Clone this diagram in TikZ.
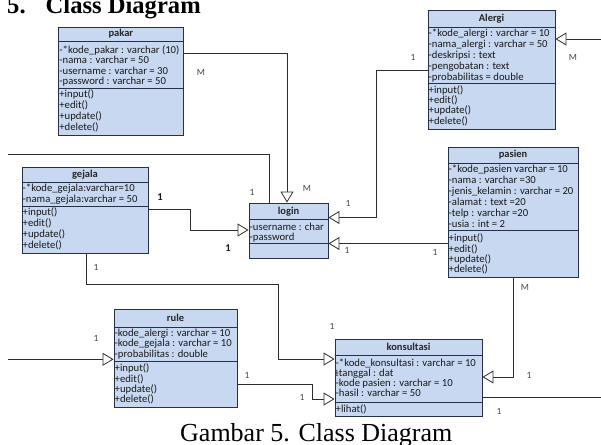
\documentclass[tikz,border=0pt]{standalone}
\usepackage{fontspec}
\setmainfont{Liberation Serif}
\newfontfamily\boxfont{Carlito}
\usetikzlibrary{arrows.meta,fit}

\definecolor{boxfill}{RGB}{199,216,240}
\definecolor{boxline}{RGB}{38,48,72}
\definecolor{wire}{RGB}{45,45,45}
\definecolor{labelgray}{RGB}{70,70,70}

\tikzset{
  classbox/.style={draw=boxline, fill=boxfill, line width=0.9pt, inner sep=0pt},
  classrule/.style={draw=boxline, line width=0.9pt},
  classtitle/.style={font=\boxfont\bfseries\fontsize{10.5}{11}\selectfont, text=black!85, inner sep=0pt},
  member/.style={font=\boxfont\fontsize{10.7}{11}\selectfont, text=black!90, inner sep=0pt},
  plainwire/.style={draw=wire, line width=0.8pt},
  assoc/.style={plainwire, -{Triangle[open, length=11pt, width=13pt, fill=white, line width=0.8pt]}},
  mult/.style={font=\boxfont\fontsize{9.5}{10}\selectfont, text=labelgray, inner sep=0pt},
  multbold/.style={font=\boxfont\bfseries\fontsize{10.5}{11}\selectfont, text=black!90, inner sep=0pt},
}

% class box: name, x1, y1, x2, y2, header divider y, attribute divider y, title
\newcommand\umlclass[8]{%
  \node[classbox, fit={(#2,#3) (#4,#5)}] (#1) {};
  \draw[classrule] (#1.west |- 0,#6) -- (#1.east |- 0,#6);
  \draw[classrule] (#1.west |- 0,#7) -- (#1.east |- 0,#7);
  \node[classtitle] (#1-title) at ({(#2+#4)/2},{(#3+#6)/2}) {#8};
}
% member lines: name prefix, x, first baseline y, line step, list
\newcommand\members[5]{%
  \foreach \t [count=\i] in {#5}
    \node[member, anchor=base west] (#1\i) at (#2,{#3+(\i-1)*#4}) {\t};
}

\begin{document}
\begin{tikzpicture}[x=1pt, y=-1pt]
\useasboundingbox (0,0) rectangle (601,444);

% heading and caption
\node[anchor=base west, inner sep=0pt, font=\bfseries\fontsize{24.6}{26}\selectfont] (heading) at (7,14) {5.\hspace{20pt}Class Diagram};
\node[anchor=base west, inner sep=0pt, font=\fontsize{26}{28}\selectfont] (caption) at (180,441) {Gambar 5. Class Diagram};

% classes
\umlclass{pakar}{58.7}{27}{183}{135}{41}{88.3}{pakar}
\members{pakar-a}{59.2}{53.5}{10.4}{-*kode\_pakar : varchar (10), -nama : varchar = 50, -username : varchar = 30, -password : varchar = 50}
\members{pakar-m}{59.2}{97.8}{10.8}{+input(), +edit(), +update(), +delete()}

\umlclass{alergi}{428}{10}{555}{129.3}{27.3}{83.3}{Alergi}
\members{alergi-a}{428.5}{36.8}{10.8}{-*kode\_alergi : varchar = 10, -nama\_alergi : varchar = 50, -deskripsi : text, -pengobatan : text, -probabilitas = double}
\members{alergi-m}{428.5}{93.5}{10.2}{+input(), +edit(), +update(), +delete()}

\umlclass{gejala}{22}{167}{148}{253}{182}{206}{gejala}
\members{gejala-a}{22.5}{191.8}{11}{-*kode\_gejala:varchar=10, -nama\_gejala:varchar = 50}
\members{gejala-m}{22.5}{215.2}{11.1}{+input(), +edit(), +update(), +delete()}

\umlclass{login}{249}{203}{328}{258}{219.5}{243.5}{login}
\members{login-a}{249.5}{230.2}{10}{-username : char, -password}

\umlclass{pasien}{448}{147}{578}{277}{163}{230}{pasien}
\members{pasien-a}{448.5}{172.8}{10.9}{-*kode\_pasien varchar = 10, -nama : varchar =30, -jenis\_kelamin : varchar = 20, -alamat : text =20, -telp : varchar =20, -usia : int = 2}
\members{pasien-m}{448.5}{241.8}{10.3}{+input(), +edit(), +update(), +delete()}

\umlclass{rule}{114}{309}{237}{407}{327}{361}{rule}
\members{rule-a}{114.5}{336.2}{10.7}{-kode\_alergi : varchar = 10, -kode\_gejala : varchar = 10, -probabilitas : double}
\members{rule-m}{114.5}{371.8}{10.2}{+input(), +edit(), +update(), +delete()}

\umlclass{konsultasi}{335}{339}{482}{416.5}{355.5}{402}{konsultasi}
\members{konsultasi-a}{335.5}{366.8}{10}{-*kode\_konsultasi : varchar = 10, -tanggal : dat, -kode pasien : varchar = 10, -hasil : varchar = 50}
\members{konsultasi-m}{335.5}{412.5}{10}{+lihat()}

% free line ends at the picture border
\coordinate (leftIn) at (8,154);
\coordinate (ruleIn) at (8,359.3);
\coordinate (alergiIn) at (601,39);
\coordinate (konsultasiOut) at (601,397);

% connectors
\draw[assoc] (pakar.east |- 0,53) -| (login.north -| 287,0);
\draw[plainwire] (leftIn) -| (login.north -| 269,0);
\draw[assoc] (gejala.east |- 0,209) -- (190,209) -- (190,230) -- (login.west |- 0,230);
\draw[assoc] (alergi.west |- 0,70) -- (376,70) -- (376,217.5) -- (login.east |- 0,217.5);
\draw[assoc] (pasien.west |- 0,243.5) -- (login.east |- 0,243.5);
\draw[assoc] (alergiIn) -- (alergi.east |- 0,39);
\draw[assoc] (gejala.south -| 86,0) -- (86,284) -- (278,284) -- (278,359) -- (konsultasi.west |- 0,359);
\draw[assoc] (ruleIn) -- (rule.west |- 0,359.3);
\draw[assoc] (rule.east |- 0,384) -- (312,384) -- (312,399) -- (konsultasi.west |- 0,399);
\draw[assoc] (pasien.south -| 513,0) -- (513,377) -- (konsultasi.east |- 0,377);
\draw[plainwire] (konsultasi.east |- 0,397) -- (konsultasiOut);

% multiplicities
\node[mult] (m1) at (201,72) {M};
\node[mult] (m2) at (307,188) {M};
\node[mult] (m3) at (252,192) {1};
\node[mult] (m4) at (413,57) {1};
\node[mult] (m5) at (573,57) {M};
\node[mult] (m6) at (348,203) {1};
\node[mult] (m7) at (347,250) {1};
\node[mult] (m8) at (435,252) {1};
\node[multbold] (m9) at (160,197) {1};
\node[multbold] (m10) at (228,248) {1};
\node[mult] (m11) at (96,267) {1};
\node[mult] (m12) at (332,326) {1};
\node[mult] (m13) at (96,338) {1};
\node[mult] (m14) at (247,375) {1};
\node[mult] (m15) at (302,397) {1};
\node[mult] (m16) at (525,287) {M};
\node[mult] (m17) at (529,375) {1};
\node[mult] (m18) at (499,411) {1};
\node[mult] (m19) at (336.5,373.5) {1};
\end{tikzpicture}
\end{document}
